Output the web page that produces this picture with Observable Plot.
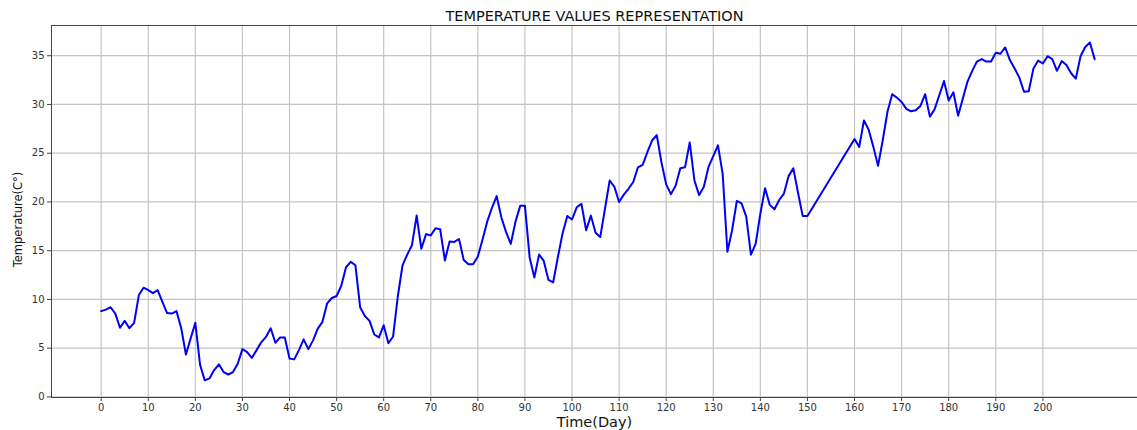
<!DOCTYPE html>
<html>
<head>
<meta charset="utf-8">
<script src="https://cdn.jsdelivr.net/npm/d3@7"></script>
<script src="https://cdn.jsdelivr.net/npm/@observablehq/plot@0.6"></script>
<style>
  html, body { margin: 0; padding: 0; background: #fff; }
</style>
</head>
<body>
<div id="chart"></div>
<script>
const title = "TEMPERATURE VALUES REPRESENTATION";
const xLabel = "Time(Day)";
const yLabel = "Temperature(C°)";

// days 0..150
const tempsA = [
  8.8, 8.95, 9.2, 8.55, 7.1, 7.8, 7.05, 7.6, 10.45, 11.2,
  10.95, 10.65, 10.95, 9.75, 8.6, 8.55, 8.8, 7.05, 4.35, 6.0,
  7.6, 3.3, 1.7, 1.9, 2.75, 3.35, 2.55, 2.3, 2.55, 3.4,
  4.9, 4.6, 4.0, 4.8, 5.6, 6.15, 7.05, 5.55, 6.1, 6.1,
  3.95, 3.85, 4.8, 5.9, 4.9, 5.8, 7.0, 7.7, 9.6, 10.15,
  10.35, 11.4, 13.3, 13.85, 13.5, 9.2, 8.3, 7.8, 6.4, 6.1,
  7.35, 5.5, 6.2, 10.3, 13.5, 14.6, 15.55, 18.6, 15.2, 16.7,
  16.55, 17.3, 17.2, 14.0, 15.95, 15.9, 16.2, 14.05, 13.6, 13.6,
  14.4, 16.15, 18.0, 19.4, 20.6, 18.4, 16.9, 15.7, 18.0, 19.6,
  19.6, 14.3, 12.25, 14.6, 13.95, 12.0, 11.75, 14.35, 16.8, 18.55,
  18.2, 19.45, 19.8, 17.1, 18.6, 16.85, 16.4, 19.3, 22.2, 21.55,
  20.0, 20.75, 21.35, 22.05, 23.55, 23.8, 25.1, 26.3, 26.85, 24.05,
  21.8, 20.8, 21.65, 23.45, 23.55, 26.1, 22.2, 20.7, 21.55, 23.6,
  24.7, 25.8, 22.85, 14.9, 17.1, 20.1, 19.85, 18.5, 14.6, 15.7,
  18.8, 21.4, 19.7, 19.25, 20.2, 20.85, 22.65, 23.45, 20.95, 18.55,
  18.55
];
// days 160..211
const tempsB = [
  26.45, 25.65, 28.35, 27.4, 25.65, 23.7, 26.35, 29.25, 31.05, 30.7,
  30.25, 29.55, 29.3, 29.4, 29.85, 31.05, 28.75, 29.5, 30.95, 32.4,
  30.4, 31.25, 28.85, 30.6, 32.35, 33.45, 34.4, 34.65, 34.4, 34.4,
  35.3, 35.2, 35.85, 34.55, 33.7, 32.75, 31.3, 31.35, 33.7, 34.5,
  34.2, 34.95, 34.65, 33.45, 34.45, 34.05, 33.2, 32.65, 34.95, 35.9,
  36.35, 34.65
];
const daysA = d3.range(0, 151);
const daysB = d3.range(160, 212);
const xTicks = d3.range(0, 201, 10);
const yTicks = d3.range(0, 36, 5);

const data = [
  ...daysA.map((d, i) => ({day: d, temp: tempsA[i]})),
  ...daysB.map((d, i) => ({day: d, temp: tempsB[i]}))
];

const font = "DejaVu Sans, sans-serif";

const chart = Plot.plot({
  width: 1137,
  height: 430,
  marginLeft: 51,
  marginRight: 0,
  marginTop: 25,
  marginBottom: 33,
  style: {fontFamily: font, background: "#fff", color: "#222"},
  x: {domain: [-10.55, 220.1]},
  y: {domain: [-0.06, 38.1]},
  marks: [
    Plot.gridX(xTicks, {stroke: "#c4c4c4", strokeOpacity: 1, strokeWidth: 1.2}),
    Plot.gridY(yTicks, {stroke: "#c4c4c4", strokeOpacity: 1, strokeWidth: 1.2}),
    Plot.line(data, {x: "day", y: "temp", stroke: "#0000f5", strokeWidth: 2}),
    Plot.frame({stroke: "#444", strokeWidth: 1}),
    Plot.axisX(xTicks, {tickSize: 4, tickPadding: 2, fontSize: 10, label: null, stroke: "#444", fill: "#333"}),
    Plot.axisY(yTicks, {tickSize: 4, tickPadding: 3, fontSize: 10, label: null, stroke: "#444", fill: "#333"}),
    Plot.text([title], {frameAnchor: "top", lineAnchor: "middle", dy: -9, fontSize: 14.5, fill: "#111"}),
    Plot.text([xLabel], {frameAnchor: "bottom", lineAnchor: "middle", dy: 25, fontSize: 14.5, fill: "#111"}),
    Plot.text([yLabel], {frameAnchor: "left", textAnchor: "middle", lineAnchor: "middle", dx: -33, dy: 8, rotate: -90, fontSize: 11.5, fill: "#111"})
  ]
});
document.getElementById("chart").appendChild(chart);
</script>
</body>
</html>
